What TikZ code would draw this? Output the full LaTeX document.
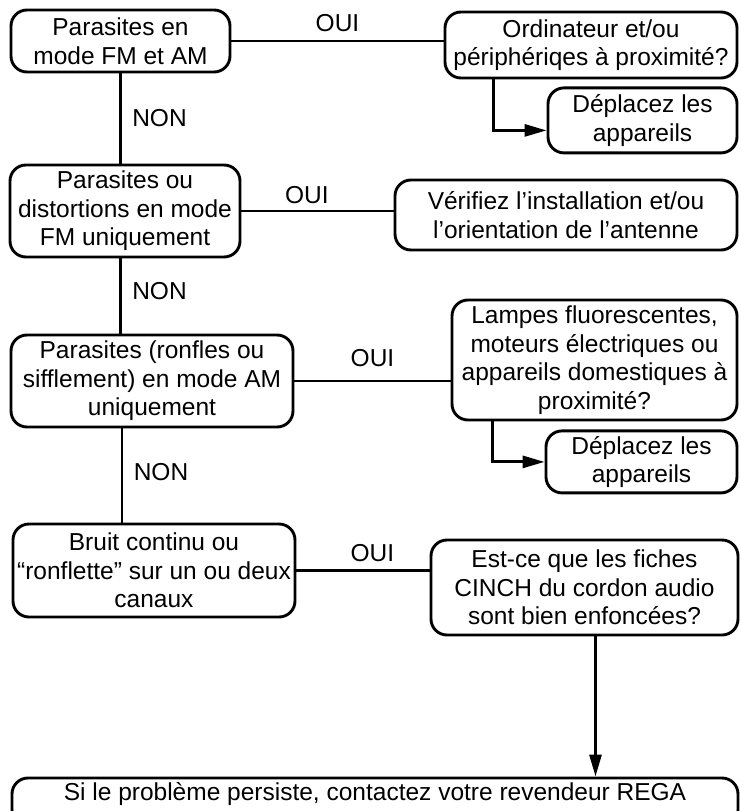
\documentclass[tikz,border=0pt]{standalone}
\usepackage{fontspec}
\setmainfont{Liberation Sans}
\usetikzlibrary {
  positioning,
  arrows.meta,
}
\tikzset{
  box/.style 2 args = {
    rectangle,
    draw = black,
    rounded corners = 16pt,
    align = center,
    line width = 2.9pt,
    inner sep = 0pt,
    font = \fontsize{24.5}{28.5}\selectfont,
    minimum width = #1,
    minimum height = #2
  },
  etiq/.style = {
    font = \fontsize{24.5}{28.5}\selectfont
  },
  line/.style = {
    line width = 2.9pt
  },
  con/.style = {
    -{Triangle[length = 22pt, width = 12pt]},
    line width = 2.9pt
  }
}

\begin{document}
\begin{tikzpicture}[x = 1pt, y = -1pt]
  \clip (0,0) rectangle (740,811);

  % Tests.
  \node[box = {219pt}{62pt}] (PFA) at (120.5,41) {Parasites en\\mode FM et AM};
  \node[box = {230pt}{92pt}] (PFM) at (125,211) {Parasites ou\\distortions en mode\\FM uniquement};
  \node[box = {282pt}{92pt}] (PAM) at (152,381) {Parasites (ronfles ou\\sifflement) en mode AM\\uniquement};
  \node[box = {282pt}{93pt}] (Bru) at (154,570.5) {Bruit continu ou\\“ronflette” sur un ou deux\\canaux};

  % Questions et actions.
  \node[box = {292pt}{66pt}] (Ord) at (591,45) {Ordinateur et/ou\\périphériqes à proximité?};
  \node[box = {189pt}{65pt}] (Dep1) [below left = 7pt and 0pt of Ord.south east] {Déplacez les\\appareils};
  \node[box = {342pt}{70pt}] (Ver) at (566,215) {Vérifiez l’installation et/ou\\l’orientation de l’antenne};
  \node[box = {285pt}{120pt}] (Lam) at (594.5,360) {Lampes fluorescentes,\\moteurs électriques ou\\appareils domestiques à\\proximité?};
  \node[box = {191pt}{62pt}] (Dep2) [below left = 8pt and 0pt of Lam.south east] {Déplacez les\\appareils};
  \node[box = {307pt}{95pt}] (Cin) at (584.5,587.5) {Est-ce que les fiches\\CINCH du cordon audio\\sont bien enfoncées?};

  % Fin.
  \node[box = {726pt}{48pt}, text height = 17pt, text depth = 21pt] (Reg) at (375,802)
    {Si le problème persiste, contactez votre revendeur REGA};

  % Branches OUI.
  \draw[line] (PFA.east) -- (PFA.east -| Ord.west) node[etiq, midway, above = 4.5pt] (oui1) {OUI};
  \draw[line] (PFM.east) -- (PFM.east -| Ver.west) node[etiq, pos = .43, above = 2.5pt] (oui2) {OUI};
  \draw[line] (PAM.east) -- (PAM.east -| Lam.west) node[etiq, midway, above = 9.5pt] (oui3) {OUI};
  \draw[line] (Bru.east) -- (Bru.east -| Cin.west) node[etiq, pos = .57, above = 4pt] (oui4) {OUI};

  % Branches NON.
  \draw[line] (PFA.south) -- (PFA.south |- PFM.north) node[etiq, midway, right = 7pt] (non1) {NON};
  \draw[line] (PFA.south |- PFM.south) -- (PFA.south |- PAM.north) node[etiq, pos = .44, right = 7pt] (non2) {NON};
  \draw[line] ([xshift = 1.5pt]PFA.south |- PAM.south) -- ([xshift = 1.5pt]PFA.south |- Bru.north) node[etiq, pos = .46, right = 7pt] (non3) {NON};

  % Fleches.
  \draw[con] ([xshift = 50pt]Ord.south west) |- ([yshift = -10pt]Dep1.west);
  \draw[con] ([xshift = 42pt]Lam.south west) |- (Dep2.west);
  \draw[con] ([xshift = 11pt]Cin.south) -- ([xshift = 11pt]Cin.south |- Reg.north);
\end{tikzpicture}
\end{document}
